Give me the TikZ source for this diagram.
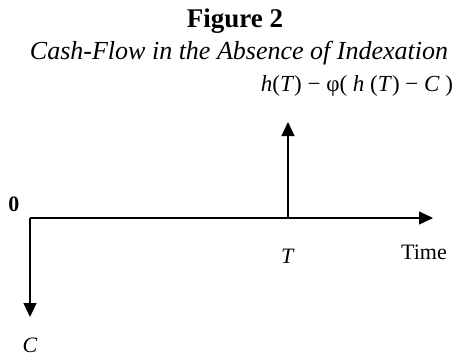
\documentclass[tikz,border=0pt]{standalone}
\usepackage{fontspec}
\setmainfont{Liberation Serif}
\usetikzlibrary{arrows.meta}
\begin{document}
\begin{tikzpicture}[x=1pt,y=-1pt,>={Triangle[length=14pt,width=13pt]},line width=1.1pt,font=\fontsize{22}{26}\selectfont]
	\useasboundingbox (0,0) rectangle (459,357);
	\node[font=\fontsize{27}{30}\bfseries\selectfont] (title) at (235,21) {Figure 2};
	\node[font=\fontsize{26}{29}\itshape\selectfont] (subtitle) at (239,53) {Cash-Flow in the Absence of Indexation};
	\coordinate (o) at (30,218);
	\coordinate (t) at (288,218);
	\coordinate (tend) at (433,218);
	\coordinate (hend) at (288,122);
	\coordinate (cend) at (30,317);
	\draw[->] (o) -- (tend);
	\draw[->] (t) -- (hend);
	\draw[->] (o) -- (cend);
	\node[anchor=east,font=\fontsize{23}{27}\selectfont] (payoff) at (457,86) {\textit{h}(\textit{T}) − φ( \textit{h} (\textit{T}) − \textit{C} )};
	\node[font=\fontsize{22}{26}\bfseries\selectfont] (zero) at (14,204) {0};
	\node (tlab) at (288,256) {\textit{T}};
	\node (time) at (424,252) {Time};
	\node (clab) at (30,345) {\textit{C}};
\end{tikzpicture}
\end{document}
